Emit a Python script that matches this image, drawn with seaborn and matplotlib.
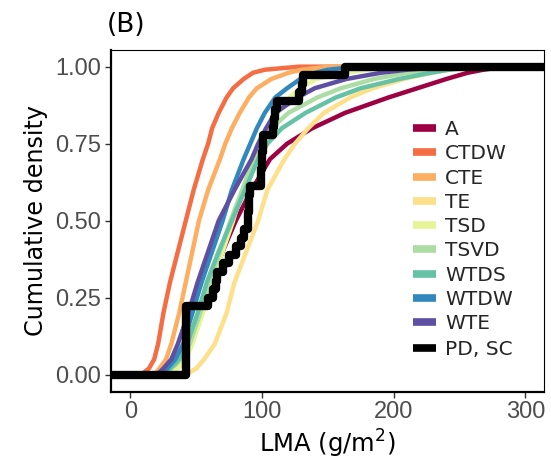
import numpy as np
import pandas as pd
import matplotlib
matplotlib.use("Agg")
import matplotlib.pyplot as plt
import seaborn as sns
from matplotlib.lines import Line2D

# ---------------- data ----------------
groups = ["A", "CTDW", "CTE", "TE", "TSD", "TSVD", "WTDS", "WTDW", "WTE"]
colors = ["#9E0142", "#F46D43", "#FDAE61", "#FEE08B", "#E6F598",
          "#ABDDA4", "#66C2A5", "#3288BD", "#5E4FA2"]

# cumulative density levels and the LMA value at which each group reaches it
cum_levels = [0, 0.02, 0.05, 0.1, 0.2, 0.3, 0.4, 0.5, 0.6, 0.7, 0.75, 0.8,
              0.85, 0.9, 0.93, 0.96, 0.98, 0.99, 1.0]
lma_A    = [24, 31, 38, 44, 53, 61, 70, 80, 92, 106, 119, 138, 163, 196, 218, 240, 256, 268, 285]
lma_CTDW = [8, 14, 18, 21, 25, 30, 36, 42, 48, 55, 59, 62, 67, 73, 78, 86, 93, 102, 128]
lma_CTE  = [18, 22, 27, 31, 37, 42, 47, 52, 59, 68, 72, 77, 83, 90, 96, 107, 120, 130, 150]
lma_TE   = [42, 50, 56, 64, 73, 79, 88, 97, 104, 117, 125, 135, 147, 167, 184, 208, 228, 242, 265]
lma_TSD  = [28, 36, 42, 47, 55, 62, 70, 78, 85, 93, 98, 104, 112, 121, 129, 141, 163, 180, 205]
lma_TSVD = [24, 31, 38, 45, 53, 60, 68, 76, 85, 94, 100, 107, 120, 142, 160, 185, 210, 228, 250]
lma_WTDS = [24, 30, 37, 43, 51, 58, 67, 77, 87, 97, 104, 115, 133, 156, 175, 204, 228, 242, 262]
lma_WTDW = [22, 28, 34, 40, 47, 54, 62, 70, 77, 86, 91, 96, 102, 110, 119, 129, 140, 150, 172]
lma_WTE  = [20, 25, 31, 36, 44, 51, 59, 67, 79, 92, 97, 103, 110, 127, 140, 164, 190, 210, 240]
group_lma = [lma_A, lma_CTDW, lma_CTE, lma_TE, lma_TSD, lma_TSVD, lma_WTDS, lma_WTDW, lma_WTE]

# PD, SC individual observations (step ECDF)
pd_sc_lma = [42, 42, 42, 42, 42, 42, 42, 42, 59, 63, 65, 66, 70, 75, 80, 84, 86,
             89, 89, 90, 90, 91, 99, 99, 100, 100, 101, 101, 108, 109, 110, 111,
             128, 130, 131, 163]
pd_sc_label = "PD, SC"

x_ticks = [0, 100, 200, 300]
y_ticks = [0.0, 0.25, 0.50, 0.75, 1.00]
y_tick_labels = ["0.00", "0.25", "0.50", "0.75", "1.00"]

XLIM = (-15, 314)
YLIM = (-0.055, 1.055)

# ---------------- figure ----------------
sns.set_theme(style="white")
plt.rcParams["font.family"] = ["DejaVu Sans"]

fig = plt.figure(figsize=(5.51, 4.69), dpi=100)
ax = fig.add_axes([0.201, 0.165, 0.786, 0.729])

rows = []
for g, q in zip(groups, group_lma):
    xs = [XLIM[0]] + list(q) + [XLIM[1]]
    ys = [0.0] + list(cum_levels) + [1.0]
    for i, (xv, yv) in enumerate(zip(xs, ys)):
        rows.append({"group": g, "LMA": xv, "cum": yv, "order": i})
df = pd.DataFrame(rows)

sns.lineplot(data=df, x="LMA", y="cum", hue="group", hue_order=groups,
             palette=colors, sort=False, estimator=None, linewidth=3.2,
             legend=False, ax=ax)

vals = np.sort(np.asarray(pd_sc_lma, dtype=float))
n = len(vals)
ecdf_y = np.arange(1, n + 1) / n
bx = np.r_[XLIM[0], vals, XLIM[1]]
by = np.r_[0.0, ecdf_y, 1.0]
sdf = pd.DataFrame({"LMA": bx, "cum": by})
sns.lineplot(data=sdf, x="LMA", y="cum", sort=False, estimator=None,
             color="black", linewidth=6, drawstyle="steps-post", ax=ax)
for ln in ax.lines:
    ln.set_solid_joinstyle("round")

ax.set_xlim(*XLIM)
ax.set_ylim(*YLIM)
ax.set_xticks(x_ticks)
ax.set_xticklabels([str(t) for t in x_ticks])
ax.set_yticks(y_ticks)
ax.set_yticklabels(y_tick_labels)
ax.tick_params(axis="both", which="both", direction="out", length=4, width=1.0,
               color="#333333", labelcolor="#4D4D4D", labelsize=17, pad=3,
               bottom=True, left=True)
for lab in ax.get_xticklabels() + ax.get_yticklabels():
    lab.set_family("Liberation Sans")

for side in ["top", "right"]:
    ax.spines[side].set_color("black")
    ax.spines[side].set_linewidth(0.8)
for side in ["left", "bottom"]:
    ax.spines[side].set_color("black")
    ax.spines[side].set_linewidth(1.6)

ax.set_xlabel("LMA (g/m$^2$)", fontsize=17.5, color="black", labelpad=3)
ax.set_ylabel("Cumulative density", fontsize=17.2, color="black", labelpad=5)

fig.text(0.193, 0.947, "(B)", fontsize=19, va="center", ha="left", color="black")

handles = [Line2D([0], [0], color=c, lw=5.5, solid_capstyle="butt") for c in colors]
leg1 = ax.legend(handles, groups, loc="upper left", bbox_to_anchor=(0.698, 0.794),
                 frameon=False, fontsize=14.5, handlelength=1.15, handletextpad=0.45,
                 labelspacing=0.26, borderaxespad=0, borderpad=0)
ax.add_artist(leg1)
h2 = [Line2D([0], [0], color="black", lw=5.5, solid_capstyle="butt")]
ax.legend(h2, [pd_sc_label], loc="upper left", bbox_to_anchor=(0.698, 0.150),
          frameon=False, fontsize=14.5, handlelength=1.15, handletextpad=0.45,
          borderaxespad=0, borderpad=0)

fig.savefig("out.png", dpi=100)
